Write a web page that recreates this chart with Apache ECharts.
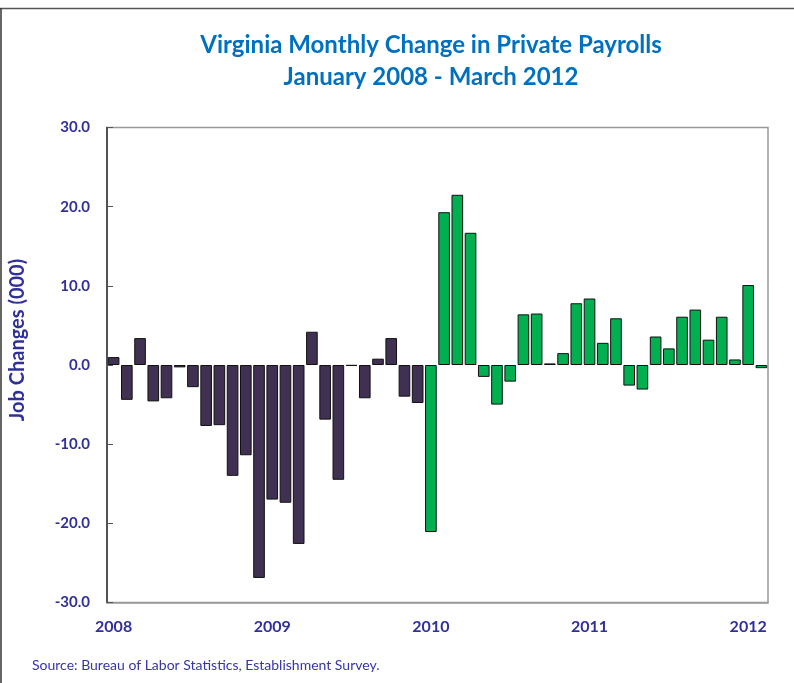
<!DOCTYPE html>
<html>
<head>
<meta charset="utf-8">
<script src="https://cdn.jsdelivr.net/npm/echarts@6/dist/echarts.min.js"></script>
<style>html,body{margin:0;padding:0;background:#fff}#c{width:794px;height:683px}</style>
</head>
<body>
<div id="c"></div>
<script>
// Months Jan 2008 .. Feb 2012 (50 bars as drawn)
const months = [];
for (let y = 2008; y <= 2012; y++) for (let m = 1; m <= 12; m++) { if (months.length < 50) months.push(y + '-' + String(m).padStart(2, '0')); }
const values = [
  1.0, -4.4, 3.4, -4.6, -4.2, -0.3, -2.8, -7.7, -7.6, -14.0, -11.4, -26.9,
  -17.0, -17.4, -22.6, 4.2, -6.9, -14.5, -0.1, -4.2, 0.8, 3.4, -4.0, -4.8,
  -21.1, 19.3, 21.5, 16.7, -1.5, -5.0, -2.1, 6.4, 6.5, 0.2, 1.5, 7.8,
  8.4, 2.8, 5.9, -2.6, -3.1, 3.6, 2.1, 6.1, 7.0, 3.2, 6.1, 0.7, 10.1, -0.4
];
const recoveryStart = '2010-01';
const yTicks = [-30, -20, -10, 0, 10, 20, 30];
const navy = '#30309A';

const chart = echarts.init(document.getElementById('c'), null, {renderer: 'canvas'});
const startIdx = months.indexOf(recoveryStart);
chart.setOption({
  animation: false,
  backgroundColor: '#fff',
  title: {
    text: 'Virginia Monthly Change in Private Payrolls\nJanuary 2008 - March 2012',
    left: 426, top: 24, textAlign: 'center',
    textStyle: {fontFamily: 'Lato', fontWeight: 'bold', fontSize: 24, color: '#0070C0', lineHeight: 32}
  },
  grid: {left: 107, right: 26, top: 127.5, bottom: 80.5, show: true, borderColor: '#999', borderWidth: 1.5, backgroundColor: 'transparent'},
  xAxis: {
    type: 'category', data: months,
    axisLine: {show: true, onZero: false, lineStyle: {color: '#999', width: 1.5}},
    axisTick: {show: false},
    axisLabel: {
      interval: 0, margin: 16,
      formatter: function (v) { return v.endsWith('-01') ? v.slice(0, 4) : ''; },
      fontFamily: 'Lato', fontWeight: 'bold', fontSize: 16, color: navy
    },
    splitLine: {show: false}
  },
  yAxis: {
    type: 'value', min: yTicks[0], max: yTicks[yTicks.length - 1], interval: 10,
    axisLine: {show: true, lineStyle: {color: '#333', width: 1.5}},
    axisTick: {show: true, inside: true, length: 6, lineStyle: {color: '#555', width: 1}},
    splitLine: {show: false},
    axisLabel: {
      margin: 17, formatter: function (v) { return v.toFixed(1); },
      fontFamily: 'Lato', fontWeight: 'bold', fontSize: 15, color: navy
    }
  },
  series: [{
    type: 'bar', data: values, barCategoryGap: '12%',
    itemStyle: {
      color: function (p) { return p.dataIndex >= startIdx ? '#00B050' : '#403152'; },
      borderColor: '#111', borderWidth: 1
    }
  }],
  graphic: [
    {type: 'text', x: 18, y: 340, rotation: Math.PI / 2, style: {text: 'Job Changes (000)', fontFamily: 'Lato', fontWeight: 'bold', fontSize: 20, fill: navy, align: 'center', verticalAlign: 'middle'}},
    {type: 'text', left: 32, top: 658, style: {text: 'Source: Bureau of Labor Statistics, Establishment Survey.', fontFamily: 'Lato', fontSize: 14, fill: '#3535A5'}},
    {type: 'line', shape: {x1: 0, y1: 8.5, x2: 794, y2: 8.5}, style: {stroke: '#555', lineWidth: 1.5}},
    {type: 'line', shape: {x1: 1, y1: 8, x2: 1, y2: 683}, style: {stroke: '#333', lineWidth: 1.5}}
  ]
});
</script>
</body>
</html>
